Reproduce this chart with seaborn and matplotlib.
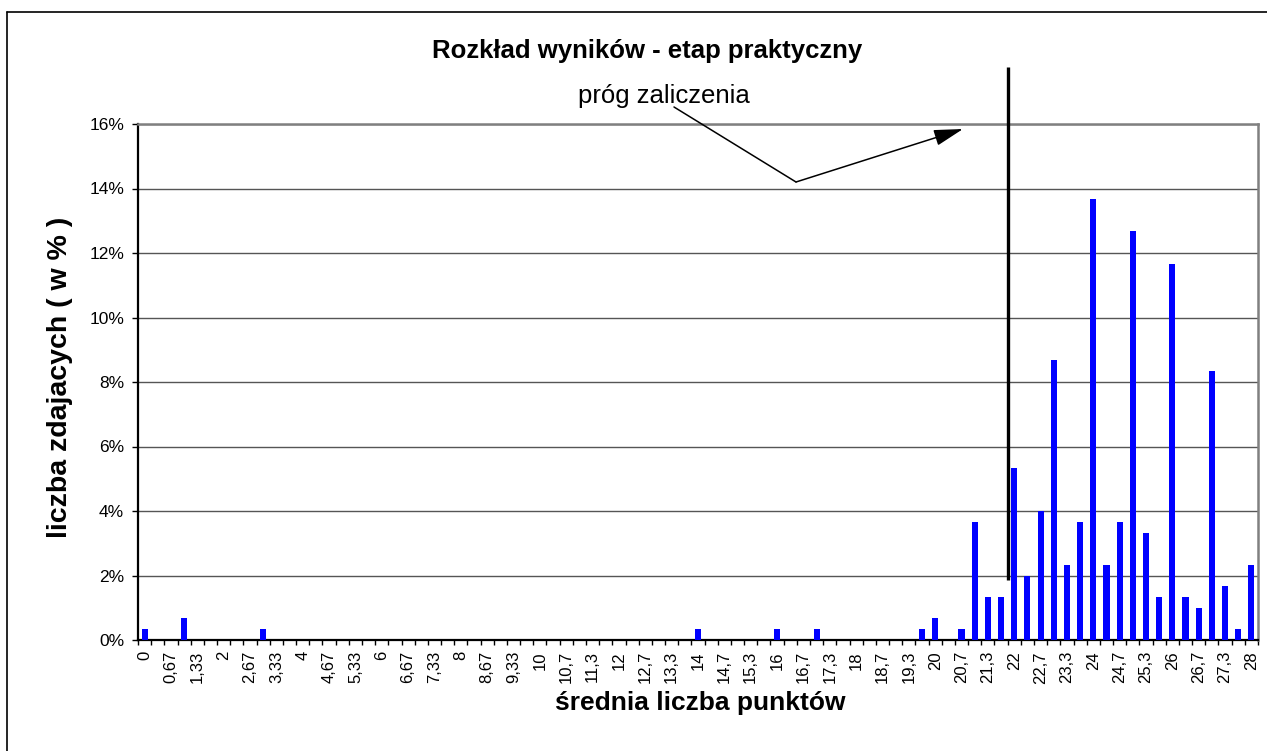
import matplotlib
matplotlib.use("Agg")
import numpy as np
import matplotlib.pyplot as plt
import seaborn as sns
import pandas as pd
from matplotlib.lines import Line2D
from matplotlib.patches import FancyArrowPatch, ArrowStyle
from matplotlib.ticker import FixedLocator, FuncFormatter

# ---------------- data ----------------
categories = ["0", "0,33", "0,67", "1", "1,33", "1,67", "2", "2,33", "2,67", "3",
              "3,33", "3,67", "4", "4,33", "4,67", "5", "5,33", "5,67", "6", "6,33",
              "6,67", "7", "7,33", "7,67", "8", "8,33", "8,67", "9", "9,33", "9,67",
              "10", "10,3", "10,7", "11", "11,3", "11,7", "12", "12,3", "12,7", "13",
              "13,3", "13,7", "14", "14,3", "14,7", "15", "15,3", "15,7", "16", "16,3",
              "16,7", "17", "17,3", "17,7", "18", "18,3", "18,7", "19", "19,3", "19,7",
              "20", "20,3", "20,7", "21", "21,3", "21,7", "22", "22,3", "22,7", "23",
              "23,3", "23,7", "24", "24,3", "24,7", "25", "25,3", "25,7", "26", "26,3",
              "26,7", "27", "27,3", "27,7", "28"]

percent = [0.33, 0, 0, 0.67, 0, 0, 0, 0, 0, 0.33,
           0, 0, 0, 0, 0, 0, 0, 0, 0, 0,
           0, 0, 0, 0, 0, 0, 0, 0, 0, 0,
           0, 0, 0, 0, 0, 0, 0, 0, 0, 0,
           0, 0, 0.33, 0, 0, 0, 0, 0, 0.33, 0,
           0, 0.33, 0, 0, 0, 0, 0, 0, 0, 0.33,
           0.67, 0, 0.33, 3.67, 1.33, 1.33, 5.33, 2.0, 4.0, 8.67,
           2.33, 3.67, 13.67, 2.33, 3.67, 12.67, 3.33, 1.33, 11.67, 1.33,
           1.0, 8.33, 1.67, 0.33, 2.33]

tick_labels = ["0", "0,67", "1,33", "2", "2,67", "3,33", "4", "4,67", "5,33", "6",
               "6,67", "7,33", "8", "8,67", "9,33", "10", "10,7", "11,3", "12", "12,7",
               "13,3", "14", "14,7", "15,3", "16", "16,7", "17,3", "18", "18,7", "19,3",
               "20", "20,7", "21,3", "22", "22,7", "23,3", "24", "24,7", "25,3", "26",
               "26,7", "27,3", "28"]

y_ticks = [0, 2, 4, 6, 8, 10, 12, 14, 16]

title = "Rozkład wyników - etap praktyczny"
xlabel = "średnia liczba punktów"
ylabel = "liczba zdajacych ( w % )"
annotation = "próg zaliczenia"
threshold_boundary = 65.5   # between categories "21,7" and "22"

# ---------------- style ----------------
sns.set_theme(style="white")
plt.rcParams["font.family"] = ["Liberation Sans", "DejaVu Sans"]
plt.rcParams["text.color"] = "black"
plt.rcParams["axes.labelcolor"] = "black"
plt.rcParams["xtick.color"] = "black"
plt.rcParams["ytick.color"] = "black"

W, H = 1267, 751
fig = plt.figure(figsize=(W / 100, H / 100), dpi=100)
fig.patch.set_facecolor("white")

def fx(px):
    return px / W

def fy(py):
    return 1 - py / H

ax = fig.add_axes([fx(138), fy(640), fx(1258) - fx(138), fy(124) - fy(640)])

df = pd.DataFrame({"cat": categories, "val": percent})
sns.barplot(data=df, x="cat", y="val", order=categories, color="#0000FF",
            saturation=1, width=0.46, errorbar=None, ax=ax, zorder=3,
            linewidth=0, edgecolor="none")

ax.set_xlim(-0.5, len(categories) - 0.5)
ax.set_ylim(0, 16)

# grid
ax.yaxis.set_major_locator(FixedLocator(y_ticks))
ax.yaxis.set_major_formatter(FuncFormatter(lambda v, p: f"{int(round(v))}%"))
ax.grid(axis="y", color="#555555", linewidth=1.0, zorder=0)
ax.grid(axis="x", visible=False)
ax.set_axisbelow(True)

# x ticks: labels at every other category, tick marks at category boundaries
ax.xaxis.set_major_locator(FixedLocator(list(range(0, len(categories), 2))))
ax.set_xticklabels(tick_labels, rotation=90, fontsize=12, va="top", ha="center",
                   color="black")
ax.xaxis.set_minor_locator(FixedLocator(np.arange(-0.5, len(categories), 1.0)))
ax.tick_params(axis="x", which="major", length=0, pad=8, colors="black")
ax.tick_params(axis="x", which="minor", bottom=True, length=3.5, width=1.0, color="black")
ax.tick_params(axis="y", which="major", left=True, length=4, width=1.0, pad=6,
               labelsize=12.5, colors="black")

for s in ["left", "bottom"]:
    ax.spines[s].set_color("black")
    ax.spines[s].set_linewidth(1.6)
for s in ["top", "right"]:
    ax.spines[s].set_color("#808080")
    ax.spines[s].set_linewidth(1.8)
    ax.spines[s].set_visible(True)

ax.set_xlabel("")
ax.set_ylabel("")

# labels and title
fig.text(fx(647), fy(51), title, ha="center", va="center", fontsize=18.5,
         fontweight="bold", color="black")
fig.text(fx(700), fy(703), xlabel, ha="center", va="center", fontsize=19,
         fontweight="bold", color="black")
fig.text(fx(60), fy(377), ylabel, ha="center", va="center", fontsize=20.5,
         fontweight="bold", rotation=90, color="black")

# threshold line (extends above plot area)
ax.plot([threshold_boundary, threshold_boundary], [1.86, 17.77], color="black",
        linewidth=2.4, clip_on=False, zorder=5, solid_capstyle="butt")

# annotation text and arrow
fig.text(fx(664), fy(96), annotation, ha="center", va="center", fontsize=18.5,
         color="black")
fig.add_artist(Line2D([fx(674), fx(796)], [fy(107), fy(182)], color="black",
                      linewidth=1.1, transform=fig.transFigure))
arrow = FancyArrowPatch((fx(796), fy(182)), (fx(963), fy(129)),
                        transform=fig.transFigure,
                        arrowstyle=ArrowStyle("-|>", head_length=18, head_width=5),
                        mutation_scale=1, color="black", linewidth=1.1,
                        shrinkA=0, shrinkB=0)
fig.add_artist(arrow)

# outer frame (top and left)
fig.add_artist(Line2D([fx(7), 1.0], [fy(11.5), fy(11.5)], color="black",
                      linewidth=1.2, transform=fig.transFigure))
fig.add_artist(Line2D([fx(7.3), fx(7.3)], [fy(11.5), 0.0], color="black",
                      linewidth=1.2, transform=fig.transFigure))

fig.savefig("out.png", dpi=100, facecolor="white")
